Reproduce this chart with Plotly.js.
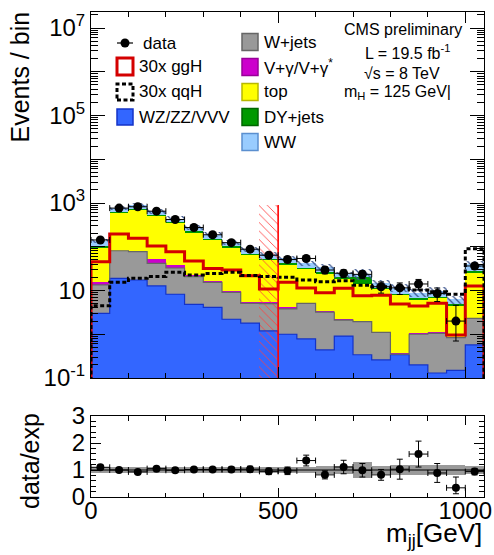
<!DOCTYPE html>
<html><head><meta charset="utf-8">
<script src="https://cdn.plot.ly/plotly-3.0.1.min.js"></script>
<style>html,body{margin:0;padding:0;background:#fff}#plot{width:494px;height:555px}</style>
</head><body><div id="plot"></div>
<script>
// ---------------- data ----------------
const binCenters = [25,75,125,175,225,275,325,375,425,475,525,575,625,675,725,775,825,875,925,975,1025];
const binWidth = 50;
const wzZzVvv = [3.0,19,17.4,12.7,8.2,4.8,4.1,2.2,1.8,1.2,1.0,0.78,0.44,0.91,0.34,0.26,0.34,0.2,0.13,0.15,0.57];
const wJets   = [10.5,62,60,29,24.5,16,11.3,6.9,3.3,3.8,2.8,4.3,2.76,1.2,1.6,0.84,0.01,0.8,0.92,0.69,1.73];
const vGamma  = [2.4,1,2,10,5,1.5,1,0.7,0.5,0.4,0.3,0.2,0.2,0.1,0.1,0.05,0.02,0.05,0.05,0.03,0.1];
const topBkg  = [78,497,612,453,305,188,127,85,59,44.5,34,25.5,21,15.8,11.8,9.5,7.5,5.05,5.5,3.63,22.3];
const dyJets  = [9,32,35,30,22,15,10,7,5,4,3.5,2.5,2.5,2.7,6.9,1,0.6,0.5,0.5,0.4,2.5];
const wwBkg   = [33,168,173,105,75,52,36,23,18,15,12.5,8.5,8.1,2.6,3.6,3.35,3.2,2.4,2.8,1.4,13];
const dataVal = [143,765,820,650,420,275,188,124,88,64,51,54,29.4,24.7,23.4,12.2,11.5,14.1,8.5,2.0,36.4];
const dataErrUp   = [12,28,29,25,20,17,14,11,9.4,8,7.1,7.3,5.4,5,4.8,3.5,3.4,3.8,2.9,2.6,6];
const dataErrDown = [12,28,29,25,20,17,14,11,9.4,8,7.1,7.3,5.4,5,4.8,3.5,3.4,3.8,2.9,1.3,6];
const ggH30x  = [45.6,196,156,104,77,47,32,29.4,21.8,10.8,15.4,11.4,8.9,11.2,7.6,7.8,4.9,4.4,5.1,0.96,12.7];
const qqH30x  = [4.5,15.4,19,21,26,22.6,24.6,26,22,21,20,17.4,15.9,16.8,13.2,12.2,11.2,10.3,9.4,8.2,90];
const mcRelUnc = [0.12,0.12,0.12,0.12,0.12,0.12,0.12,0.12,0.12,0.12,0.12,0.12,0.15,0.15,0.28,0.15,0.2,0.2,0.2,0.2,0.15];
const ratioVal = [1.10,1.0,0.93,1.05,0.99,1.02,1.02,1.02,1.03,0.95,0.97,1.35,0.82,1.11,0.99,0.82,1.03,1.59,0.89,0.34,0.94];
const ratioErrUp   = [0.08,0.04,0.04,0.04,0.05,0.06,0.07,0.09,0.11,0.12,0.14,0.2,0.15,0.25,0.25,0.2,0.37,0.48,0.35,0.4,0.12];
const ratioErrDown = [0.08,0.04,0.04,0.04,0.05,0.06,0.07,0.09,0.11,0.12,0.14,0.2,0.15,0.25,0.25,0.2,0.37,0.48,0.35,0.22,0.12];
const cutRegion = [450, 500];   // mjj cut, hatched
const cutTop = 900;
const histFloor = 1e-3;
const yTickVals = [0.1,1,10,100,1e3,1e4,1e5,1e6,1e7];
const yTickText = ['10<sup>-1</sup>','','10','','10<sup>3</sup>','','10<sup>5</sup>','','10<sup>7</sup>'];
const xTickVals = [0,500,1000];
const ratioTickVals = [0,1,2,3];
const ratioRef = 1;

// ---------------- derived ----------------
const edges = binCenters.map(c => c - binWidth/2).concat([binCenters[binCenters.length-1] + binWidth/2]);
const add = (a,b) => a.map((v,i) => v + b[i]);
const c1 = wzZzVvv.slice();
const c2 = add(c1, wJets);
const c3 = add(c2, vGamma);
const c4 = add(c3, topBkg);
const c5 = add(c4, dyJets);
const c6 = add(c5, wwBkg);
const minorLog = [];
for (let n = -1; n <= 7; n++) for (let m = 2; m <= 9; m++) { const v = m * Math.pow(10, n); if (v < 2.3e7) minorLog.push(v); }

const FONT = 'Liberation Sans, Arial, sans-serif';
const C = {wz:'#3366ff', wzL:'#1433c8', wj:'#999999', wjL:'#666666', vg:'#cc00cc', top:'#ffff00', dy:'#009900', ww:'#99ccff', ggH:'#d40000'};

function bar(y, color, extra) {
  return Object.assign({type:'bar', x:binCenters, y:y, width:binWidth, marker:{color:color, line:{width:0}},
    xaxis:'x', yaxis:'y', hoverinfo:'skip', showlegend:false}, extra||{});
}
function histStep(vals) {
  const x = [edges[0]], y = [histFloor];
  vals.forEach((v,i) => { x.push(edges[i]); y.push(v); });
  x.push(edges[edges.length-1]); y.push(vals[vals.length-1]);
  x.push(edges[edges.length-1]); y.push(histFloor);
  return {x, y};
}
function topStep(vals) {
  return {x: edges.slice(), y: vals.concat([vals[vals.length-1]])};
}

const traces = [];
traces.push(bar(c6, C.ww));
traces.push(bar(c5, C.dy));
traces.push(bar(c4, C.top));
traces.push(bar(c3, C.vg));
traces.push(bar(c2, C.wj));
traces.push(bar(c1, C.wz));
// MC uncertainty hatch on top of the stack
traces.push(bar(c6.map((t,i)=>2*t*mcRelUnc[i]), 'rgba(0,0,0,0)', {
  base: c6.map((t,i)=>t*(1-mcRelUnc[i])),
  marker:{color:'rgba(0,0,0,0)', line:{width:0}, pattern:{shape:'\\', fgcolor:'#37508a', fgopacity:1, size:5, solidity:0.25, fillmode:'overlay'}}
}));
// cut region hatch
traces.push({type:'bar', x:[(cutRegion[0]+cutRegion[1])/2], y:[cutTop], width:cutRegion[1]-cutRegion[0],
  marker:{color:'rgba(0,0,0,0)', line:{width:0}, pattern:{shape:'\\', fgcolor:'#ff4040', fgopacity:1, size:6, solidity:0.14, fillmode:'overlay'}},
  xaxis:'x', yaxis:'y', hoverinfo:'skip', showlegend:false});
// stack outlines
const sb = topStep(c1), sg = topStep(c2);
traces.push({type:'scatter', mode:'lines', x:sb.x, y:sb.y, line:{shape:'hv', color:C.wzL, width:1.2}, xaxis:'x', yaxis:'y', hoverinfo:'skip', showlegend:false});
traces.push({type:'scatter', mode:'lines', x:sg.x, y:sg.y, line:{shape:'hv', color:C.wjL, width:1.2}, xaxis:'x', yaxis:'y', hoverinfo:'skip', showlegend:false});
// signals
const sgg = histStep(ggH30x), sqq = histStep(qqH30x);
traces.push({type:'scatter', mode:'lines', x:sgg.x, y:sgg.y, line:{shape:'hv', color:C.ggH, width:3}, xaxis:'x', yaxis:'y', hoverinfo:'skip', showlegend:false});
traces.push({type:'scatter', mode:'lines', x:sqq.x, y:sqq.y, line:{shape:'hv', color:'#000', width:3, dash:'4px,2.5px'}, xaxis:'x', yaxis:'y', hoverinfo:'skip', showlegend:false});
// cut line
traces.push({type:'scatter', mode:'lines', x:[cutRegion[1],cutRegion[1]], y:[histFloor,cutTop], line:{color:'#ff0000', width:1.6}, xaxis:'x', yaxis:'y', hoverinfo:'skip', showlegend:false});
// data
traces.push({type:'scatter', mode:'markers', x:binCenters, y:dataVal, marker:{color:'#000', size:9},
  error_x:{type:'constant', value:binWidth/2, width:3, thickness:1, color:'#000'},
  error_y:{type:'data', array:dataErrUp, arrayminus:dataErrDown, width:3, thickness:1, color:'#000'},
  xaxis:'x', yaxis:'y', hoverinfo:'skip', showlegend:false});

// ratio panel
traces.push({type:'bar', x:binCenters, y:mcRelUnc.map(u=>2*u), base:mcRelUnc.map(u=>ratioRef-u), width:binWidth,
  marker:{color:'#9a9a9a', line:{width:0}}, xaxis:'x2', yaxis:'y2', hoverinfo:'skip', showlegend:false});
traces.push({type:'scatter', mode:'lines', x:[edges[0], edges[edges.length-1]], y:[ratioRef, ratioRef], line:{color:'#000', width:1.2},
  xaxis:'x2', yaxis:'y2', hoverinfo:'skip', showlegend:false});
traces.push({type:'scatter', mode:'markers', x:binCenters, y:ratioVal, marker:{color:'#000', size:8},
  error_x:{type:'constant', value:binWidth/2, width:3, thickness:1, color:'#000'},
  error_y:{type:'data', array:ratioErrUp, arrayminus:ratioErrDown, width:3, thickness:1, color:'#000'},
  xaxis:'x2', yaxis:'y2', hoverinfo:'skip', showlegend:false});

// ---------------- layout helpers ----------------
const L=91, T=12, W=393, H=485;
const px = x => (x - L) / W;
const py = y => (T + H - y) / H;
const shapes = [], annotations = [];
function rect(x0,y0,x1,y1,fill,line,lw,dash) {
  shapes.push({type:'rect', xref:'paper', yref:'paper', x0:px(x0), x1:px(x1), y0:py(y1), y1:py(y0),
    fillcolor:fill, line:{color:line, width:lw, dash:dash||'solid'}, layer:'above'});
}
function txt(x,y,text,size,xanchor,extra) {
  annotations.push(Object.assign({xref:'paper', yref:'paper', x:px(x), y:py(y), text:text, showarrow:false,
    xanchor:xanchor||'left', yanchor:'middle', font:{family:FONT, size:size, color:'#000'}}, extra||{}));
}
// legend column 1
shapes.push({type:'line', xref:'paper', yref:'paper', x0:px(117), x1:px(133), y0:py(43), y1:py(43), line:{color:'#000', width:1.2}, layer:'above'});
shapes.push({type:'circle', xref:'paper', yref:'paper', x0:px(120.5), x1:px(129.5), y0:py(47.5), y1:py(38.5), fillcolor:'#000', line:{color:'#000', width:0}, layer:'above'});
txt(141, 43, 'data', 17);
rect(117,58,133,75,'rgba(0,0,0,0)',C.ggH,3);
txt(137, 66, '30x ggH', 17);
rect(117,84,133,100,'rgba(0,0,0,0)','#000',3,'4px,2.5px');
txt(137, 92, '30x qqH', 17);
rect(117,109,133,125,C.wz,C.wzL,1.5);
txt(137, 117, 'WZ/ZZ/VVV', 17);
// legend column 2
const col2 = [[C.wj,C.wjL,'W+jets'],[C.vg,'#990099','V+γ/V+γ<sup>*</sup>'],[C.top,'#b8b800','top'],[C.dy,'#006600','DY+jets'],[C.ww,'#5b8fcf','WW']];
col2.forEach((e,i) => { const yc = 42 + 25*i; rect(242, yc-8.5, 258, yc+8.5, e[0], e[1], 1.5); txt(262, yc, e[2], 17); });
// text block
txt(403, 30, 'CMS preliminary', 16, 'center');
txt(407, 52, 'L = 19.5 fb<sup>-1</sup>', 16, 'center');
txt(402, 73, '√s = 8 TeV', 16, 'center');
txt(397, 93, 'm<sub>H</sub> = 125 GeV|', 16, 'center');
// axis titles
txt(19, 10, 'Events / bin', 25, 'center', {textangle:-90, yanchor:'top'});
txt(30, 461, 'data/exp', 25, 'center', {textangle:-90});
txt(484, 516, 'm<sub>jj</sub>[GeV]', 26, 'right', {yanchor:'top'});

const axCommon = {showline:true, linecolor:'#000', linewidth:1, mirror:'allticks', ticks:'inside', tickcolor:'#000',
  showgrid:false, zeroline:false, tickfont:{family:FONT, size:24, color:'#000'}};

const layout = {
  width:494, height:555, margin:{l:L, r:494-L-W, t:T, b:555-T-H}, paper_bgcolor:'#fff', plot_bgcolor:'#fff',
  barmode:'overlay', bargap:0, showlegend:false, font:{family:FONT, color:'#000'},
  xaxis: Object.assign({}, axCommon, {domain:[0,1], anchor:'y', range:[0,1050], tickmode:'array', tickvals:xTickVals, showticklabels:false,
    ticklen:11, minor:{ticks:'inside', ticklen:5, dtick:100, tick0:0, tickcolor:'#000', showgrid:false}}),
  yaxis: Object.assign({}, axCommon, {domain:[py(378),1], anchor:'x', type:'log', range:[-1, 7.366], tickmode:'array',
    tickvals:yTickVals, ticktext:yTickText, ticklen:14, minor:{ticks:'inside', ticklen:7, tickmode:'array', tickvals:minorLog, tickcolor:'#000', showgrid:false}}),
  xaxis2: Object.assign({}, axCommon, {domain:[0,1], anchor:'y2', range:[0,1050], tickmode:'array', tickvals:xTickVals,
    ticklen:9, ticklabelstandoff:-8, minor:{ticks:'inside', ticklen:4.5, dtick:100, tick0:0, tickcolor:'#000', showgrid:false}}),
  yaxis2: Object.assign({}, axCommon, {domain:[0, py(416)], anchor:'x2', range:[0,3], tickmode:'array', tickvals:ratioTickVals,
    ticklen:10, minor:{ticks:'inside', ticklen:5, dtick:0.2, tick0:0, tickcolor:'#000', showgrid:false}}),
  shapes: shapes, annotations: annotations
};
Plotly.newPlot('plot', traces, layout, {staticPlot:true, displayModeBar:false});
</script></body></html>
